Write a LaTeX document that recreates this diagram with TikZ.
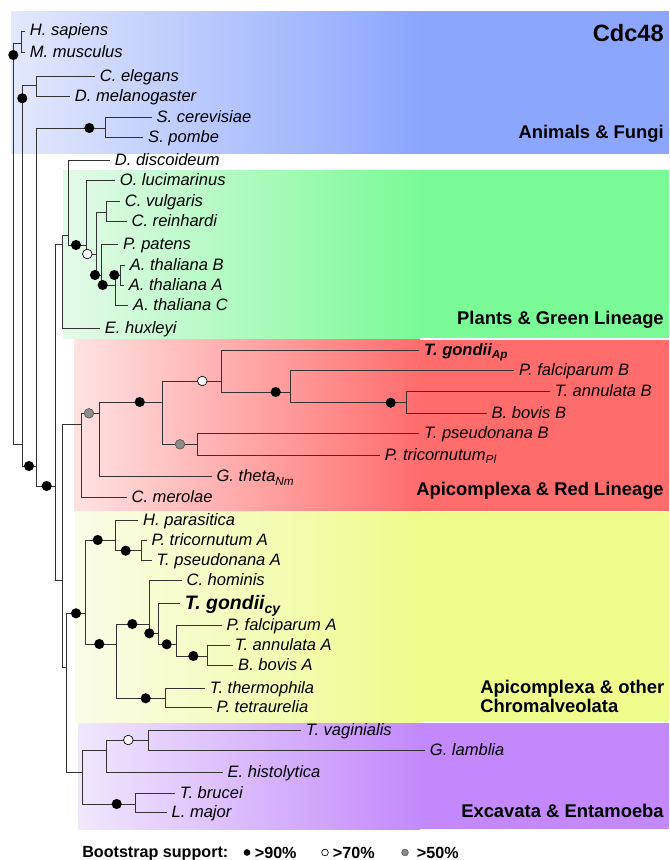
\documentclass[tikz,border=0pt]{standalone}
\usepackage{fontspec}
\setmainfont{Liberation Sans}
\usetikzlibrary{positioning,calc}

\definecolor{bluL}{RGB}{226,232,252}
\definecolor{bluR}{RGB}{140,166,254}
\definecolor{grnL}{RGB}{228,250,232}
\definecolor{grnR}{RGB}{122,250,150}
\definecolor{redL}{RGB}{255,226,226}
\definecolor{redR}{RGB}{255,108,108}
\definecolor{yelL}{RGB}{250,252,232}
\definecolor{yelR}{RGB}{238,252,140}
\definecolor{purL}{RGB}{240,231,253}
\definecolor{purR}{RGB}{195,137,252}

\newcommand{\subtx}[1]{\raisebox{-0.45ex}{\fontsize{8.8}{9}\selectfont#1}}

\tikzset{
  branch/.style={draw=black!80, line width=0.6pt},
  leaf/.style={anchor=west, inner xsep=3.5pt, inner ysep=0pt,
    font=\fontsize{12.4}{14}\selectfont\itshape, text height=8.5pt, text depth=1pt},
  bs90/.style={circle, fill=black, inner sep=0pt, minimum size=7.6pt},
  bs70/.style={circle, draw=black, fill=white, line width=0.5pt, inner sep=0pt, minimum size=7.2pt},
  bs50/.style={circle, draw=black!65, fill=black!45, line width=0.5pt, inner sep=0pt, minimum size=7.2pt},
  group/.style={anchor=base east, inner sep=0pt, font=\fontsize{13.8}{15}\selectfont\bfseries},
  legtext/.style={inner sep=0pt, font=\fontsize{12.1}{14}\selectfont\bfseries},
}

\begin{document}
\begin{tikzpicture}[x=0.75pt,y=-0.75pt]
      \useasboundingbox (0,0) rectangle (670,860);

      % groups
      \fill[bluR] (11,11) rectangle (669,153.5);
      \shade[left color=bluL, right color=bluR] (11,11) rectangle (420,153.5);
      \fill[grnR] (63.3,170) rectangle (669,338.3);
      \shade[left color=grnL, right color=grnR] (63.3,170) rectangle (420,338.3);
      \fill[redR] (74,339.7) rectangle (669,511);
      \shade[left color=redL, right color=redR] (74,339.7) rectangle (420,511);
      \fill[yelR] (75,511.7) rectangle (669,722);
      \shade[left color=yelL, right color=yelR] (75,511.7) rectangle (420,722);
      \fill[purR] (78.7,723) rectangle (669,829.3);
      \shade[left color=purL, right color=purR] (78.7,723) rectangle (420,829.3);

      % inner nodes
      \coordinate (root) at (13.3,200);
      \coordinate (hm) at (21.7,43.3);
      \coordinate (v1) at (22.3,444);
      \coordinate (cd) at (36.7,85);
      \coordinate (v2) at (36.7,466);
      \coordinate (yeast) at (105,128);
      \coordinate (v3) at (55,486);
      \coordinate (ehuxn) at (62.7,244);
      \coordinate (dd) at (68.3,235);
      \coordinate (green1) at (86,245);
      \coordinate (green2) at (96,254);
      \coordinate (chlam) at (106,212);
      \coordinate (path) at (101.7,275);
      \coordinate (athbac) at (115,285);
      \coordinate (athba) at (120,275);
      \coordinate (redplus) at (62.7,580);
      \coordinate (redroot) at (81.7,424);
      \coordinate (red2) at (99,413.3);
      \coordinate (red3) at (162,402);
      \coordinate (api) at (221.7,381);
      \coordinate (api2) at (290.3,392);
      \coordinate (piro) at (406,402.7);
      \coordinate (diat) at (197.7,444.3);
      \coordinate (low) at (66.7,667);
      \coordinate (yel) at (85,613.3);
      \coordinate (stram) at (115,540);
      \coordinate (diata) at (141.7,550.7);
      \coordinate (alv) at (116.7,644);
      \coordinate (apia) at (149.3,624);
      \coordinate (apia2) at (158.3,633.3);
      \coordinate (apia3) at (176.7,644.3);
      \coordinate (piroa) at (207.3,656);
      \coordinate (cilia) at (165,698.3);
      \coordinate (purp) at (82.7,772.3);
      \coordinate (exc1) at (106.7,750.7);
      \coordinate (dipl) at (148.3,740);
      \coordinate (kin) at (135,804);

      % leaves
      \node[leaf] (hsap) at (25,31) {H. sapiens};
      \node[leaf] (mmus) at (25,52) {M. musculus};
      \node[leaf] (cele) at (95,76) {C. elegans};
      \node[leaf] (dmel) at (70,96) {D. melanogaster};
      \node[leaf] (scer) at (151.7,117) {S. cerevisiae};
      \node[leaf] (spom) at (143.3,137.3) {S. pombe};
      \node[leaf] (ddis) at (110,160) {D. discoideum};
      \node[leaf] (oluc) at (115,180) {O. lucimarinus};
      \node[leaf] (cvul) at (120,201.7) {C. vulgaris};
      \node[leaf] (crei) at (126.7,221.7) {C. reinhardi};
      \node[leaf] (ppat) at (118.3,244) {P. patens};
      \node[leaf] (athb) at (125,265) {A. thaliana B};
      \node[leaf] (atha) at (124,285) {A. thaliana A};
      \node[leaf] (athc) at (128.3,305) {A. thaliana C};
      \node[leaf] (ehux) at (100,328.3) {E. huxleyi};
      \node[leaf, font=\fontsize{12.4}{14}\selectfont\bfseries\itshape] (tgap) at (419.3,350) {T. gondii\subtx{Ap}};
      \node[leaf] (pfb) at (514.3,370.7) {P. falciparum B};
      \node[leaf] (tab) at (550,391.7) {T. annulata B};
      \node[leaf] (bbb) at (486.7,413.3) {B. bovis B};
      \node[leaf] (tpb) at (419.3,433.3) {T. pseudonana B};
      \node[leaf] (ptpl) at (380,455) {P. tricornutum\subtx{Pl}};
      \node[leaf] (gth) at (211.7,476.7) {G. theta\subtx{Nm}};
      \node[leaf] (cmer) at (126.7,497.3) {C. merolae};
      \node[leaf] (hpar) at (138.3,520) {H. parasitica};
      \node[leaf] (pta) at (146.7,540) {P. tricornutum A};
      \node[leaf] (tpa) at (151.7,560) {T. pseudonana A};
      \node[leaf] (chom) at (181.7,580.7) {C. hominis};
      \node[leaf, font=\fontsize{14.6}{16}\selectfont\bfseries\itshape, text height=10pt] (tgcy) at (180,603.3) {T. gondii{\fontsize{10.5}{11}\selectfont\raisebox{-0.5ex}{cy}}};
      \node[leaf] (pfa) at (221.7,625) {P. falciparum A};
      \node[leaf] (taa) at (230,645) {T. annulata A};
      \node[leaf] (bba) at (233.3,665) {B. bovis A};
      \node[leaf] (tth) at (205,688.3) {T. thermophila};
      \node[leaf] (ptet) at (211.7,707.3) {P. tetraurelia};
      \node[leaf] (tvag) at (301,730.5) {T. vaginialis};
      \node[leaf] (glam) at (425,750.7) {G. lamblia};
      \node[leaf] (ehis) at (222.7,772.3) {E. histolytica};
      \node[leaf] (tbru) at (175,793.3) {T. brucei};
      \node[leaf] (lmaj) at (166.7,812.7) {L. major};

      % branches
      \draw[branch] (root) |- (hm) (root) |- (v1);
      \draw[branch] (hm) |- (hsap) (hm) |- (mmus);
      \draw[branch] (v1) |- (cd) (v1) |- (v2);
      \draw[branch] (cd) |- (cele) (cd) |- (dmel);
      \draw[branch] (v2) |- (yeast) (v2) |- (v3);
      \draw[branch] (yeast) |- (scer) (yeast) |- (spom);
      \draw[branch] (v3) |- (ehuxn) (v3) |- (redplus);
      \draw[branch] (ehuxn) |- (dd) (ehuxn) |- (ehux);
      \draw[branch] (dd) |- (ddis) (dd) |- (green1);
      \draw[branch] (green1) |- (oluc) (green1) |- (green2);
      \draw[branch] (green2) |- (chlam) (green2) |- (path);
      \draw[branch] (chlam) |- (cvul) (chlam) |- (crei);
      \draw[branch] (path) |- (ppat) (path) |- (athbac);
      \draw[branch] (athbac) |- (athba) (athbac) |- (athc);
      \draw[branch] (athba) |- (athb) (athba) |- (atha);
      \draw[branch] (redplus) |- (redroot) (redplus) |- (low);
      \draw[branch] (redroot) |- (red2) (redroot) |- (cmer);
      \draw[branch] (red2) |- (red3) (red2) |- (gth);
      \draw[branch] (red3) |- (api) (red3) |- (diat);
      \draw[branch] (api) |- (tgap) (api) |- (api2);
      \draw[branch] (api2) |- (pfb) (api2) |- (piro);
      \draw[branch] (piro) |- (tab) (piro) |- (bbb);
      \draw[branch] (diat) |- (tpb) (diat) |- (ptpl);
      \draw[branch] (low) |- (yel) (low) |- (purp);
      \draw[branch] (yel) |- (stram) (yel) |- (alv);
      \draw[branch] (stram) |- (hpar) (stram) |- (diata);
      \draw[branch] (diata) |- (pta) (diata) |- (tpa);
      \draw[branch] (alv) |- (apia) (alv) |- (cilia);
      \draw[branch] (apia) |- (chom) (apia) |- (apia2);
      \draw[branch] (apia2) |- (tgcy) (apia2) |- (apia3);
      \draw[branch] (apia3) |- (pfa) (apia3) |- (piroa);
      \draw[branch] (piroa) |- (taa) (piroa) |- (bba);
      \draw[branch] (cilia) |- (tth) (cilia) |- (ptet);
      \draw[branch] (purp) |- (exc1) (purp) |- (kin);
      \draw[branch] (exc1) |- (dipl) (exc1) |- (ehis);
      \draw[branch] (dipl) |- (tvag) (dipl) |- (glam);
      \draw[branch] (kin) |- (tbru) (kin) |- (lmaj);

      % bootstrap
      \node[bs90] (dhm) at (13.3,55) {};
      \node[bs90] (dv1) at (22.3,98.3) {};
      \node[bs90] (dyeast) at (89.3,128) {};
      \node[bs90] (dv2) at (29,466) {};
      \node[bs90] (dv3) at (46.7,486) {};
      \node[bs90] (dgreen1) at (76,245) {};
      \node[bs70] (dgreen2) at (87.3,254) {};
      \node[bs90] (dpath) at (95,275) {};
      \node[bs90] (dathbac) at (102.7,285) {};
      \node[bs90] (dathba) at (114.3,275) {};
      \node[bs50] (dred2) at (89,413.3) {};
      \node[bs90] (dred3) at (139.7,402) {};
      \node[bs70] (dapi) at (202.3,381) {};
      \node[bs50] (ddiat) at (180,444.3) {};
      \node[bs90] (dapi2) at (275.7,392) {};
      \node[bs90] (dpiro) at (390.7,402.7) {};
      \node[bs90] (dyel) at (76,613.3) {};
      \node[bs90] (dstram) at (97.7,540) {};
      \node[bs90] (ddiata) at (125.7,550.7) {};
      \node[bs90] (dalv) at (99.3,644) {};
      \node[bs90] (dapia) at (132.3,624) {};
      \node[bs90] (dapia2) at (149.3,633.3) {};
      \node[bs90] (dapia3) at (166.7,644.3) {};
      \node[bs90] (dpiroa) at (193.3,656) {};
      \node[bs90] (dcilia) at (145.7,698.3) {};
      \node[bs70] (ddipl) at (128.3,740) {};
      \node[bs90] (dkin) at (116.7,804) {};

      % labels
      \node[group, font=\fontsize{17.7}{20}\selectfont\bfseries] (title) at (664,41.7) {Cdc48};
      \node[group] (gaf) at (664,138.3) {Animals \& Fungi};
      \node[group] (gpg) at (664,324) {Plants \& Green Lineage};
      \node[group] (gar) at (664,495) {Apicomplexa \& Red Lineage};
      \node[group, anchor=base west] (gac) at (480,693.3) {Apicomplexa \& other};
      \node[group, anchor=base west] (gch) at (480,712.7) {Chromalveolata};
      \node[group] (gee) at (664,817) {Excavata \& Entamoeba};

      % legend
      \node[legtext, anchor=base west] (leg) at (82,857) {Bootstrap support:};
      \node[bs90, minimum size=5pt] (l90) at (247,852.5) {};
      \node[legtext, right=3pt of l90] (t90) {>90\%};
      \node[bs70, minimum size=5pt] (l70) at (325,852.5) {};
      \node[legtext, right=3pt of l70] (t70) {>70\%};
      \node[bs50, minimum size=5pt] (l50) at (405,852.5) {};
      \node[legtext, right=6pt of l50] (t50) {>50\%};
    \end{tikzpicture}
\end{document}
